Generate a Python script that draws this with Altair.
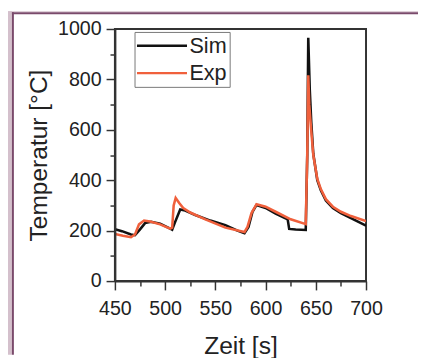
import altair as alt
import pandas as pd

# ---- data ----
sim_t = [450, 457, 466, 470, 475, 480, 486, 495, 505, 507, 510, 515, 520, 530, 545, 560, 572, 579, 583, 587, 591,
         600, 610, 622, 623.5, 630, 640, 641.5, 642.5, 644, 645.5, 647.5, 651.5, 655, 660, 667, 675, 685, 700]
sim_T = [206, 198, 185, 182, 205, 230, 235, 228, 208, 204, 235, 284, 280, 262, 240, 222, 200, 190, 215, 275, 302,
         290, 268, 245, 207, 205, 203, 500, 965, 760, 630, 505, 400, 360, 320, 290, 270, 250, 220]
exp_t = [450, 458, 466, 470, 474, 479, 485, 495, 505, 507, 508.5, 510.5, 514, 518, 525, 540, 560, 579, 582, 586,
         591, 600, 610, 625, 640, 641.5, 642.5, 643.5, 645, 647.5, 651.5, 655, 660, 667, 675, 685, 700]
exp_T = [187, 180, 174, 185, 225, 240, 236, 225, 208, 212, 300, 330, 310, 290, 272, 245, 212, 195, 215, 270,
         305, 295, 275, 245, 226, 500, 816, 700, 620, 500, 405, 365, 325, 295, 275, 258, 238]
series = ["Sim", "Exp"]
colors = ["#111111", "#f0603c"]
x_ticks = list(range(450, 701, 25))
y_ticks = list(range(0, 1001, 100))

df = pd.concat([
    pd.DataFrame({"t": sim_t, "T": sim_T, "s": "Sim"}),
    pd.DataFrame({"t": exp_t, "T": exp_T, "s": "Exp"}),
], ignore_index=True)

FONT = "Liberation Sans"
INK = "#222222"

x_axis = alt.Axis(
    values=x_ticks, format="d", labelFlush=False, labelOverlap=False,
    labelExpr="datum.value % 50 === 0 ? datum.label : ''",
    tickSize={"condition": {"test": "datum.value % 50 === 0", "value": 9}, "value": 5},
    labelFontSize=20, labelFont=FONT, labelColor=INK, labelPadding=9,
    titleFontSize=25, titleFont=FONT, titleColor=INK, titleFontWeight="normal", titlePadding=16,
    domainColor="#333333", domainWidth=2, tickColor="#333333", tickWidth=1.5,
    grid=False, zindex=1,
)
y_axis = alt.Axis(
    values=y_ticks, format="d", labelFlush=False, labelOverlap=False,
    labelExpr="datum.value % 200 === 0 ? datum.label : ''",
    tickSize={"condition": {"test": "datum.value % 200 === 0", "value": 9}, "value": 5},
    labelFontSize=20, labelFont=FONT, labelColor=INK, labelPadding=5,
    titleFontSize=25, titleFont=FONT, titleColor=INK, titleFontWeight="normal", titlePadding=6,
    domainColor="#333333", domainWidth=2, tickColor="#333333", tickWidth=1.5,
    grid=False, zindex=1,
)

base = alt.Chart(df).mark_line(strokeWidth=2.6, clip=True).encode(
    x=alt.X("t:Q", scale=alt.Scale(domain=[450, 700], nice=False), axis=x_axis, title="Zeit [s]"),
    y=alt.Y("T:Q", scale=alt.Scale(domain=[0, 1000], nice=False), axis=y_axis, title="Temperatur [°C]"),
    color=alt.Color("s:N", scale=alt.Scale(domain=series, range=colors), sort=series,
                    legend=alt.Legend(title=None, orient="none", legendX=20, legendY=3,
                                      symbolType="M-5,0H5", symbolSize=104, symbolStrokeWidth=2.5,
                                      symbolOffset=14, labelOffset=17,
                                      labelFontSize=22, labelFont=FONT, labelColor=INK,
                                      padding=3, strokeColor="#777777", fillColor="white", rowPadding=6)),
    order="t:Q",
)
sim_layer = base.transform_filter("datum.s === 'Sim'")
exp_layer = base.transform_filter("datum.s === 'Exp'")

deco = pd.DataFrame({"a": [0]})
lav = alt.Chart(deco).mark_rect(color="#d4c0cc").encode(
    x=alt.value(-109), x2=alt.value(-105), y=alt.value(-18), y2=alt.value(332))
border_left = alt.Chart(deco).mark_rect(color="#7a4a6b").encode(
    x=alt.value(-105), x2=alt.value(-103), y=alt.value(-17), y2=alt.value(332))
border_top = alt.Chart(deco).mark_rect(color="#7a4a6b").encode(
    x=alt.value(-105), x2=alt.value(309), y=alt.value(-17), y2=alt.value(-15))
lav_top = alt.Chart(deco).mark_rect(color="#d4c0cc").encode(
    x=alt.value(-109), x2=alt.value(309), y=alt.value(-18), y2=alt.value(-17))

chart = alt.layer(lav, lav_top, border_left, border_top, sim_layer, exp_layer).properties(
    width=256, height=257,
    autosize=alt.AutoSizeParams(type="none"),
    padding={"left": 109, "top": 18, "right": 53, "bottom": 75},
    background="white",
).configure_view(stroke="#333333", strokeWidth=2)

chart.save("out.html", embed_options={"renderer": "svg", "actions": False})
